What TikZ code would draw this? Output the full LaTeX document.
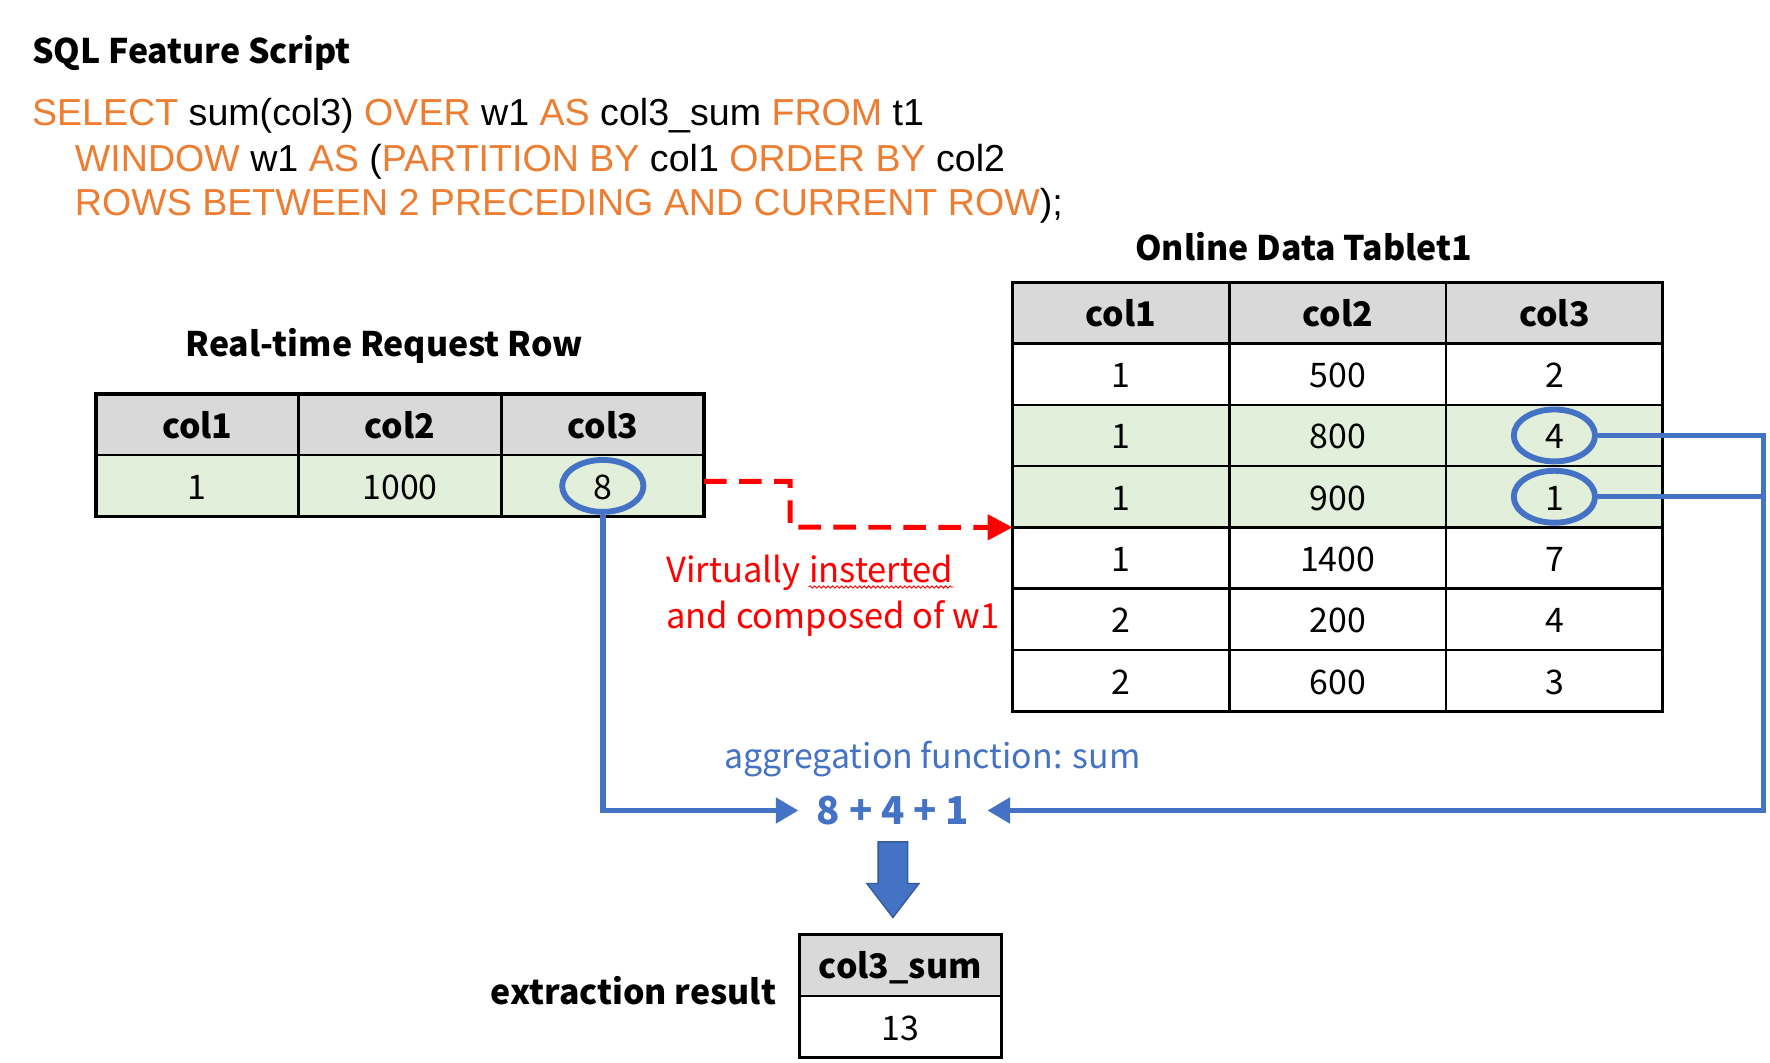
\documentclass[tikz,border=0pt]{standalone}
\usepackage{fontspec}
\setmainfont{Noto Sans CJK SC}
\newfontfamily\sqlfont{Liberation Sans}
\usepackage{xcolor}
\definecolor{sqlorange}{RGB}{237,125,49}
\definecolor{aggblue}{RGB}{68,114,196}
\definecolor{headgray}{RGB}{217,217,217}
\definecolor{rowgreen}{RGB}{226,239,218}
\usepackage{tikz}
\usetikzlibrary{shapes,arrows.meta,positioning,calc,decorations.pathmorphing}

\newcommand{\kw}[1]{\textcolor{sqlorange}{#1}}

\begin{document}
\begin{tikzpicture}[
    x=0.5pt, y=-0.5pt,
    title/.style={inner sep=0pt, font=\fontsize{15}{18}\selectfont\bfseries},
    sqlline/.style={anchor=west, inner sep=0pt, font=\sqlfont\fontsize{16.65}{19}\selectfont},
    cell/.style={rectangle, draw, line width=1.1pt, outer sep=0pt, inner sep=0pt, minimum width=#1, minimum height=27.15pt, text height=12.5pt, text depth=0.5pt, font=\fontsize{15}{18}\selectfont},
    hcell/.style={cell=#1, fill=headgray, font=\fontsize{15}{18}\selectfont\bfseries},
    frame/.style={draw, line width=1.5pt},
    ring/.style={ellipse, draw=aggblue, line width=2.6pt, minimum width=36pt, minimum height=23pt, inner sep=0pt},
    flow/.style={draw=aggblue, line width=2.4pt, -{Triangle[length=10pt,width=11pt]}},
    flowline/.style={draw=aggblue, line width=2.4pt},
    vline/.style={draw=red, line width=2.2pt, dash pattern=on 10pt off 5.5pt, -{Triangle[length=11pt,width=11pt]}},
    redtext/.style={text=red, anchor=base west, inner sep=0pt, font=\fontsize{15.3}{18}\selectfont},
    typo/.style={draw=red, line width=0.4pt, decorate, decoration={snake, amplitude=0.5pt, segment length=2pt}},
    aggtext/.style={text=aggblue, inner sep=0pt, font=\fontsize{15}{18}\selectfont},
    sumtxt/.style={text=aggblue, inner xsep=8pt, inner ysep=2pt, font=\fontsize{17}{20}\selectfont\bfseries},
    bigarrow/.style={single arrow, shape border rotate=270, fill=aggblue, draw=aggblue!80!black, line width=0.6pt, minimum height=33.5pt, inner sep=6.25pt, single arrow head extend=5pt, single arrow tip angle=75}
]

\fill[white] (0,0) rectangle (1568,941);

% SQL script
\node[title, anchor=west] (sqltitle) at (28,47) {SQL Feature Script};
\node[sqlline] (sql1) at (28,103) {\kw{SELECT} sum(col3) \kw{OVER} w1 \kw{AS} col3\_sum \kw{FROM} t1};
\node[sqlline] (sql2) at (66,143) {\kw{WINDOW} w1 \kw{AS} (\kw{PARTITION BY} col1 \kw{ORDER BY} col2};
\node[sqlline] (sql3) at (66,182) {\kw{ROWS BETWEEN 2 PRECEDING AND CURRENT ROW});};

% request row
\node[hcell=89.8pt, anchor=north west] (rh1) at (85,349) {col1};
\node[hcell=89.8pt, right=0pt of rh1] (rh2) {col2};
\node[hcell=89.8pt, right=0pt of rh2] (rh3) {col3};
\node[cell=89.8pt, fill=rowgreen, below=0pt of rh1] (r11) {1};
\node[cell=89.8pt, fill=rowgreen, below=0pt of rh2] (r12) {1000};
\node[cell=89.8pt, fill=rowgreen, below=0pt of rh3] (r13) {8};
\draw[frame] (rh1.north west) rectangle (r13.south east);
\node[title, above=13.5pt of rh2, xshift=-7pt] (reqtitle) {Real-time Request Row};

% online table
\foreach \c [count=\j] in {col1,col2,col3}
  \node[hcell=96pt, anchor=north west] (th\j) at ({897+192*(\j-1)},250) {\c};
\foreach \a/\b/\c/\f [count=\i] in {1/500/2/white, 1/800/4/rowgreen, 1/900/1/rowgreen, 1/1400/7/white, 2/200/4/white, 2/600/3/white} {
  \node[cell=96pt, fill=\f, anchor=north west] (t\i1) at (897,{250+54.3*\i}) {\a};
  \node[cell=96pt, fill=\f, right=0pt of t\i1] (t\i2) {\b};
  \node[cell=96pt, fill=\f, right=0pt of t\i2] (t\i3) {\c};
}
\draw[frame] (th1.north west) rectangle (t63.south east);
\node[title, above=9pt of th2, xshift=-15pt] (onltitle) {Online Data Tablet1};

% picked values
\node[ring] (e8) at (r13.center) {};
\node[ring] (e4) at (t23.center) {};
\node[ring] (e1) at (t33.center) {};

% virtual insert
\coordinate (vbend) at (700,467);
\draw[vline] ([yshift=2pt]r13.east) -| (vbend) -- (t41.north west);
\node[redtext] (virt) at (590,516) {Virtually};
\node[redtext] (wrong) at ([xshift=3.5pt]virt.base east) {insterted};
\node[redtext] (virt2) at (590,557) {and composed of w1};
\draw[typo] ([yshift=-2pt]wrong.base west) -- ([yshift=-2pt]wrong.base east);

% aggregation
\node[aggtext] (agg) at (826,672) {aggregation function: sum};
\node[sumtxt] (sum) at (791,718) {8 + 4 + 1};
\coordinate (rjoin) at (1562,718);
\draw[flow] (e8.south) |- (sum.west);
\draw[flow] (e4.east) -| (rjoin) -- (sum.east);
\draw[flowline] (e1.east) -- (e1.east -| rjoin);

% result
\node[bigarrow, below=5pt of sum] (down) {};
\node[hcell=89.5pt, anchor=north west] (res) at (708,828) {col3\_sum};
\node[cell=89.5pt, below=0pt of res] (resv) {13};
\draw[frame] (res.north west) rectangle (resv.south east);
\node[title, anchor=east] (extr) at ([xshift=-10pt,yshift=2.5pt]res.south west) {extraction result};

\end{tikzpicture}
\end{document}
